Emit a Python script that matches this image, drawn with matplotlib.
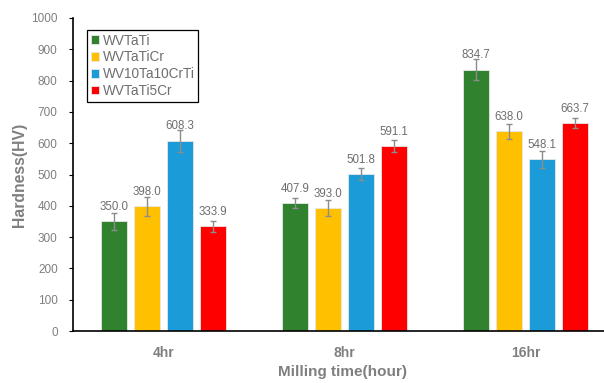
import numpy as np
import matplotlib.pyplot as plt

plt.rcParams['font.family'] = ['Liberation Sans', 'DejaVu Sans']

# milling time groups and alloy series
groups = ["4hr", "8hr", "16hr"]
alloys = ["WVTaTi", "WVTaTiCr", "WV10Ta10CrTi", "WVTaTi5Cr"]
colors = ["#31822F", "#FFC000", "#1B9CD8", "#FF0000"]

hardness = [
    [350.0, 407.9, 834.7],   # WVTaTi
    [398.0, 393.0, 638.0],   # WVTaTiCr
    [608.3, 501.8, 548.1],   # WV10Ta10CrTi
    [333.9, 591.1, 663.7],   # WVTaTi5Cr
]
errors = [
    [27, 16, 33],
    [30, 27, 24],
    [35, 19, 26],
    [19, 19, 16],
]

gray = "#7F7F7F"

fig = plt.figure(figsize=(6.04, 3.83), dpi=100)
ax = fig.add_axes([73 / 604, 52 / 383, 543 / 604, 313 / 383])

x = np.arange(len(groups))
pitch = 0.182
width = 0.14
for i, name in enumerate(alloys):
    pos = x + (i - 1.5) * pitch
    bars = ax.bar(pos, hardness[i], width, color=colors[i], edgecolor="#E8E8E8",
                  linewidth=0.6, label=name, zorder=2)
    ax.errorbar(pos, hardness[i], yerr=errors[i], fmt="none", ecolor="#8C8C8C",
                elinewidth=1.0, capsize=2.5, capthick=1.0, zorder=3)
    for b, v in zip(bars, hardness[i]):
        ax.annotate(f"{v:.1f}", (b.get_x() + b.get_width() / 2, v),
                    xytext=(0, 6), textcoords="offset points",
                    ha="center", va="bottom", fontsize=8.3, color="#6E6E6E", zorder=4)

ax.set_xlim(-0.5, 2.5)
ax.set_ylim(0, 1000)
ax.set_yticks(np.arange(0, 1001, 100))
ax.set_xticks(x)
ax.set_xticklabels(groups, fontsize=10, fontweight="bold", color=gray)
ax.tick_params(axis="x", length=0, pad=11)
ax.tick_params(axis="y", direction="out", length=3, width=0.8, labelsize=8.5,
               labelcolor=gray, pad=8)

for s in ["top", "right"]:
    ax.spines[s].set_visible(False)
ax.spines["left"].set_linewidth(1.2)
ax.spines["bottom"].set_linewidth(1.2)

ax.set_ylabel("Hardness(HV)", fontsize=11.3, fontweight="bold", color=gray)
ax.yaxis.set_label_coords(-(73 - 27) / 543, 0.5)
ax.set_xlabel("Milling time(hour)", fontsize=11, fontweight="bold", color=gray)
ax.xaxis.set_label_coords((343 - 73) / 543, -(365 - 331) / 313)

leg = ax.legend(loc="upper left", bbox_to_anchor=(0.013, 0.985), fontsize=9.8,
                handlelength=0.6, handleheight=0.6, handletextpad=0.25,
                labelspacing=0.2, borderpad=0.3, fancybox=False,
                framealpha=1, edgecolor="black", labelcolor="#6E6E6E")
leg.get_frame().set_linewidth(0.9)

fig.savefig("out.png", dpi=100)
